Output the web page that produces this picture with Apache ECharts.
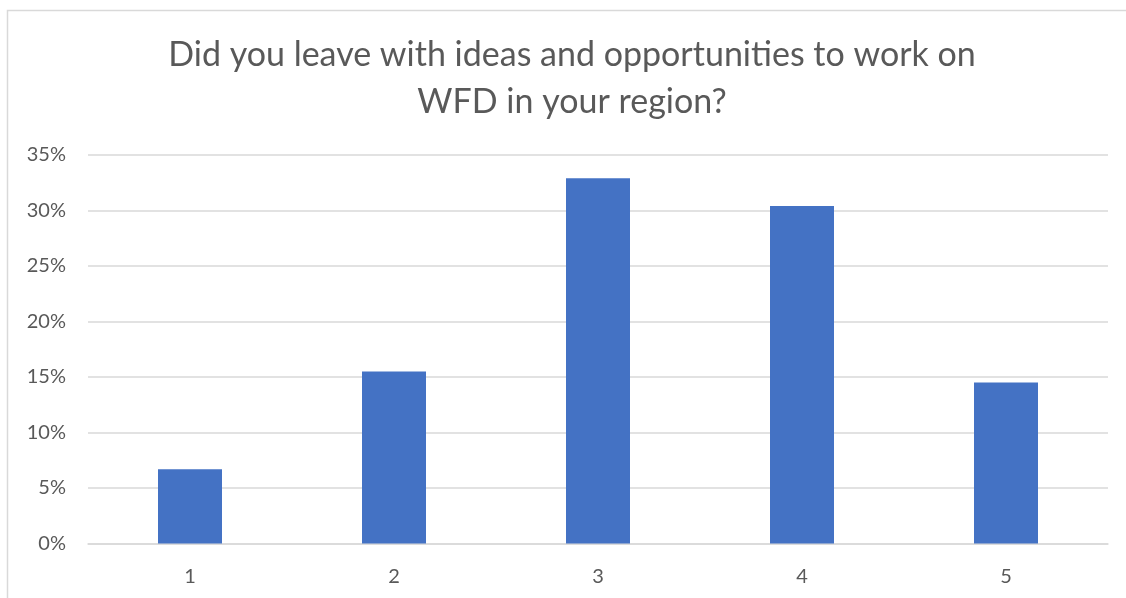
<!DOCTYPE html>
<html>
<head>
<meta charset="utf-8">
<script src="https://cdn.jsdelivr.net/npm/echarts@6/dist/echarts.min.js"></script>
<style>
  html, body { margin: 0; padding: 0; background: #fff; }
  #chart { width: 1126px; height: 598px; }
</style>
</head>
<body>
<div id="chart"></div>
<script>
const titleLines = ['Did you leave with ideas and opportunities to work on', 'WFD in your region?']
const categories = ['1', '2', '3', '4', '5']
const shares = [0.067, 0.155, 0.329, 0.304, 0.145]

const chart = echarts.init(document.getElementById('chart'))

chart.setOption({
  animation: false,
  textStyle: { fontFamily: 'Lato, "Open Sans", sans-serif' },
  graphic: [
    {
      type: 'rect',
      silent: true,
      shape: { x: 7.5, y: 10.5, width: 1300, height: 800 },
      style: { fill: 'none', stroke: '#d9d9d9', lineWidth: 1.5 },
    },
    {
      type: 'text',
      x: 572,
      y: 32,
      style: {
        text: titleLines.join('\n'),
        fill: '#595959',
        font: '34px Lato, "Open Sans", sans-serif',
        textAlign: 'center',
        textVerticalAlign: 'top',
        lineHeight: 47,
      },
    },
  ],
  grid: {
    left: 88,
    right: 18,
    top: 155,
    bottom: 54.5,
    containLabel: false,
  },
  xAxis: {
    type: 'category',
    data: categories,
    axisLine: { lineStyle: { color: '#d9d9d9', width: 1.5 } },
    axisTick: { show: false },
    axisLabel: { color: '#595959', fontSize: 20, margin: 23 },
  },
  yAxis: {
    type: 'value',
    min: 0,
    max: 0.35,
    interval: 0.05,
    axisLine: { show: false },
    axisTick: { show: false },
    splitLine: { lineStyle: { color: '#d9d9d9', width: 1.5 } },
    axisLabel: {
      color: '#595959',
      fontSize: 20,
      margin: 22,
      formatter: v => Math.round(v * 100) + '%',
    },
  },
  series: [{
    type: 'bar',
    data: shares,
    barWidth: 64,
    itemStyle: { color: '#4472c4' },
  }],
})
</script>
</body>
</html>
